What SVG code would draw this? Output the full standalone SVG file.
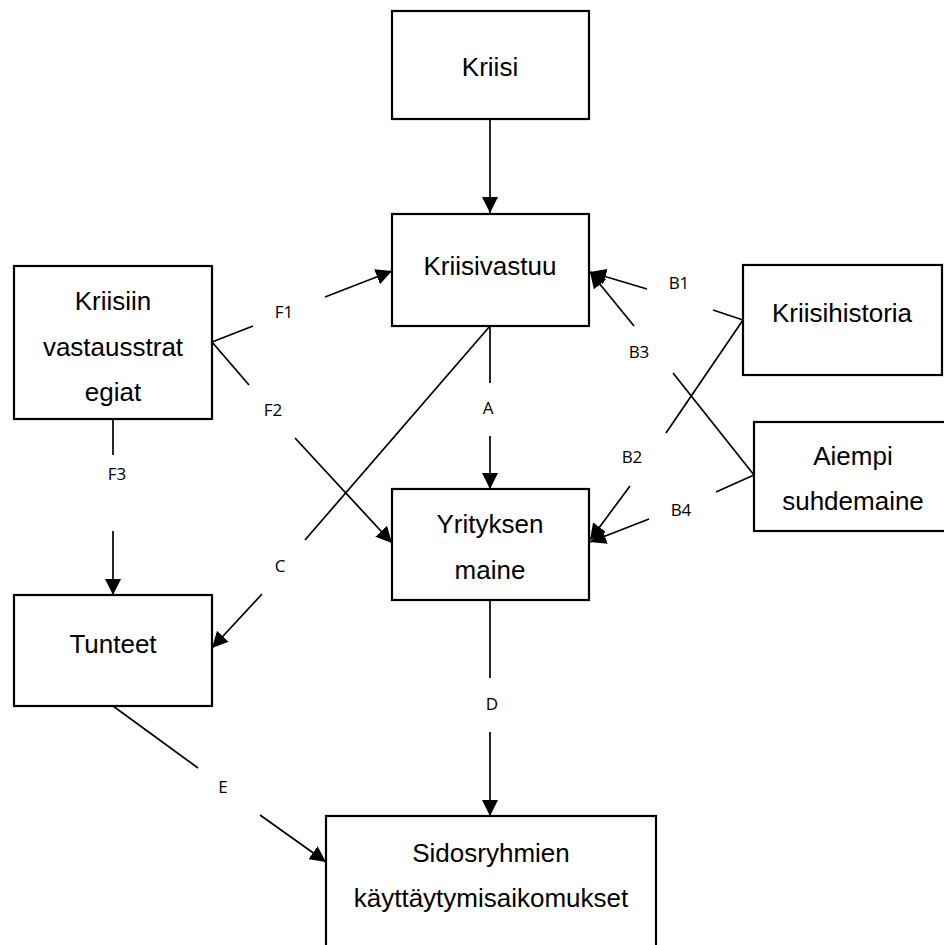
<svg xmlns="http://www.w3.org/2000/svg" width="944" height="945" viewBox="0 0 944 945">
<style>
.box{fill:#fff;stroke:#000;stroke-width:2.2}
.t{font-family:"Liberation Sans",Arial,sans-serif;font-size:26px;text-anchor:middle;fill:#000}
.l{font-family:"Open Sans","Noto Sans",sans-serif;font-size:17px;text-anchor:middle;fill:#000}
.c{fill:none;stroke:#000;stroke-width:1.7}
.a{marker-end:url(#ah)}
</style>
<defs>
<marker id="ah" markerUnits="userSpaceOnUse" markerWidth="16" markerHeight="16" refX="16" refY="8" orient="auto">
<path d="M0,0 L16,8 L0,16 z" fill="#000"/>
</marker>
</defs>
<rect width="944" height="945" fill="#fff"/>
<g id="connectors">
<line class="c a" x1="490" y1="119" x2="490" y2="213"/>
<line class="c" x1="490" y1="326" x2="490" y2="383"/>
<line class="c a" x1="490" y1="436" x2="490" y2="489"/>
<line class="c" x1="490" y1="600" x2="490" y2="678"/>
<line class="c a" x1="490" y1="732" x2="490" y2="816"/>
<line class="c" x1="113" y1="706" x2="198" y2="768"/>
<line class="c a" x1="260" y1="815" x2="326" y2="862"/>
<line class="c" x1="113" y1="419" x2="113" y2="455"/>
<line class="c a" x1="113" y1="531" x2="113" y2="595"/>
<line class="c" x1="490" y1="326" x2="305" y2="540"/>
<line class="c a" x1="262" y1="594" x2="212" y2="648"/>
<line class="c" x1="212" y1="342" x2="253" y2="326"/>
<line class="c a" x1="325" y1="297" x2="392" y2="271"/>
<line class="c" x1="212" y1="342" x2="249" y2="385"/>
<line class="c a" x1="295" y1="438" x2="392" y2="543"/>
<line class="c" x1="743" y1="320" x2="713" y2="310"/>
<line class="c a" x1="647" y1="289" x2="590" y2="272"/>
<line class="c" x1="754" y1="475" x2="673" y2="373"/>
<line class="c a" x1="634" y1="326" x2="590" y2="272"/>
<line class="c" x1="743" y1="320" x2="666" y2="433"/>
<line class="c a" x1="630" y1="486" x2="590" y2="540"/>
<line class="c" x1="754" y1="475" x2="716" y2="492"/>
<line class="c a" x1="649" y1="519" x2="590" y2="542"/>
<text class="l" x="284" y="318">F1</text>
<text class="l" x="273" y="416">F2</text>
<text class="l" x="117" y="480">F3</text>
<text class="l" x="488" y="414">A</text>
<text class="l" x="679" y="289">B1</text>
<text class="l" x="639" y="358">B3</text>
<text class="l" x="632" y="463">B2</text>
<text class="l" x="681" y="516">B4</text>
<text class="l" x="280" y="572">C</text>
<text class="l" x="492" y="710">D</text>
<text class="l" x="223" y="793">E</text>
</g>
<g id="kriisi">
<rect class="box" x="392" y="11" width="197" height="108"/>
<text class="t" x="490" y="76">Kriisi</text>
</g>
<g id="kriisivastuu">
<rect class="box" x="392" y="214" width="197" height="112"/>
<text class="t" x="490" y="275">Kriisivastuu</text>
</g>
<g id="kriisiin">
<rect class="box" x="14" y="266" width="198" height="153"/>
<text class="t" x="113" y="310">Kriisiin</text>
<text class="t" x="113" y="356">vastausstrat</text>
<text class="t" x="113" y="401">egiat</text>
</g>
<g id="kriisihistoria">
<rect class="box" x="743" y="265" width="199" height="110"/>
<text class="t" x="842" y="322">Kriisihistoria</text>
</g>
<g id="aiempi">
<rect class="box" x="754" y="422" width="192" height="109"/>
<text class="t" x="853" y="465">Aiempi</text>
<text class="t" x="853" y="510">suhdemaine</text>
</g>
<g id="yrityksen">
<rect class="box" x="392" y="489" width="197" height="111"/>
<text class="t" x="490" y="533">Yrityksen</text>
<text class="t" x="490" y="579">maine</text>
</g>
<g id="tunteet">
<rect class="box" x="14" y="595" width="198" height="111"/>
<text class="t" x="113" y="653">Tunteet</text>
</g>
<g id="sidosryhmien">
<rect class="box" x="326" y="816" width="330" height="140"/>
<text class="t" x="491" y="862">Sidosryhmien</text>
<text class="t" x="491" y="907">käyttäytymisaikomukset</text>
</g>
</svg>
